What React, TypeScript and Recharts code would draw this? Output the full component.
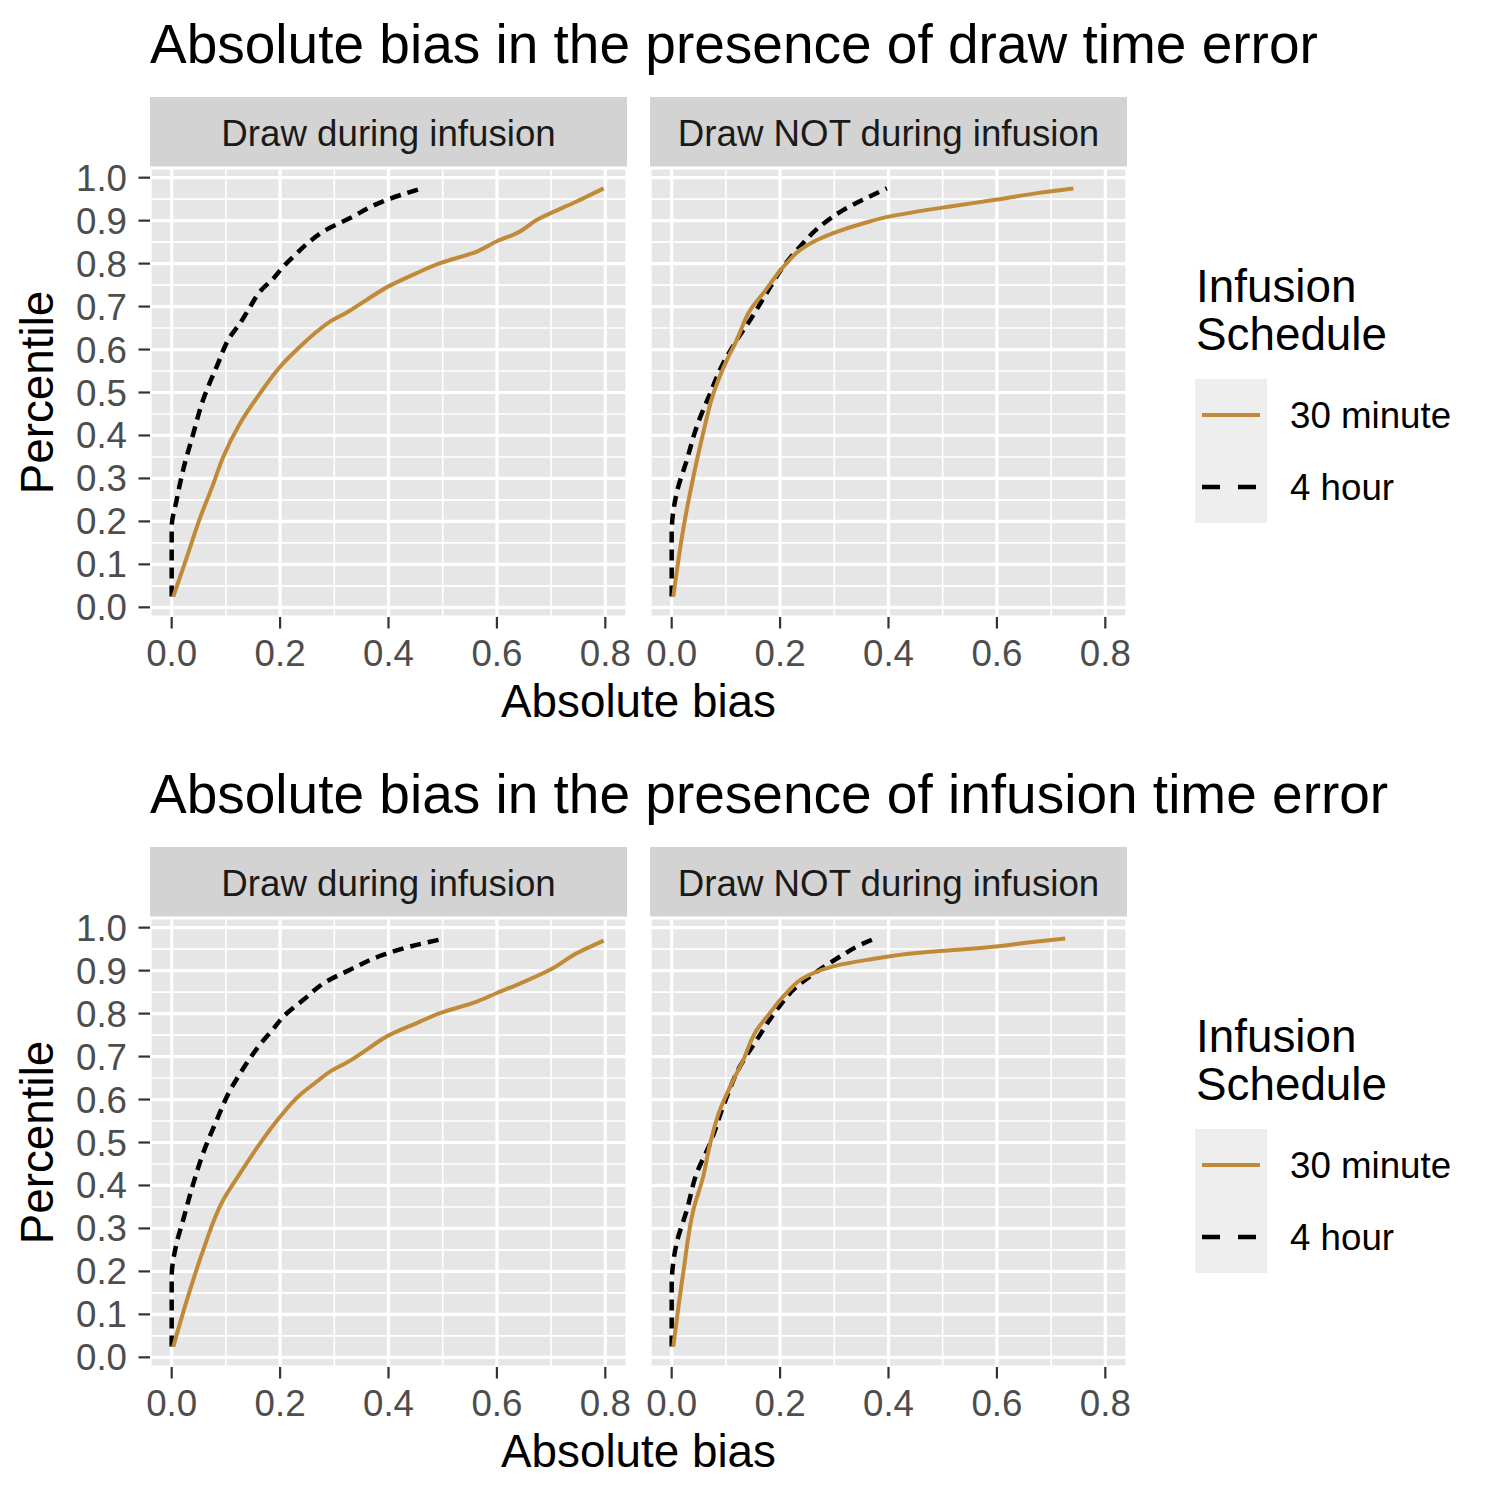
import { CartesianGrid, Line, LineChart, ReferenceLine, XAxis, YAxis } from "recharts";

type Pt = [number, number];

// absolute bias (x) vs percentile (y)
const drawDuring30: Pt[] = [[0.003,0.025],[0.028,0.117],[0.052,0.207],[0.077,0.288],[0.095,0.35],[0.126,0.428],[0.163,0.498],[0.2,0.56],[0.237,0.607],[0.268,0.642],[0.292,0.665],[0.323,0.686],[0.36,0.716],[0.4,0.747],[0.452,0.778],[0.495,0.801],[0.563,0.828],[0.6,0.852],[0.637,0.871],[0.674,0.902],[0.748,0.945],[0.797,0.975]];
const drawDuring4h: Pt[] = [[0,0.025],[0,0.187],[0.009,0.249],[0.021,0.319],[0.04,0.405],[0.058,0.483],[0.083,0.56],[0.108,0.63],[0.126,0.661],[0.145,0.7],[0.163,0.735],[0.188,0.766],[0.206,0.793],[0.231,0.824],[0.255,0.852],[0.28,0.875],[0.329,0.906],[0.39,0.945],[0.461,0.975]];
const drawNot30: Pt[] = [[0.003,0.025],[0.022,0.187],[0.04,0.304],[0.058,0.405],[0.077,0.498],[0.102,0.576],[0.12,0.622],[0.145,0.692],[0.169,0.731],[0.212,0.801],[0.237,0.832],[0.268,0.855],[0.298,0.871],[0.354,0.894],[0.403,0.91],[0.452,0.921],[0.514,0.933],[0.6,0.949],[0.674,0.964],[0.741,0.975]];
const drawNot4h: Pt[] = [[0,0.025],[0,0.172],[0.009,0.265],[0.028,0.343],[0.046,0.42],[0.071,0.498],[0.095,0.568],[0.12,0.622],[0.145,0.669],[0.175,0.731],[0.206,0.793],[0.237,0.84],[0.274,0.887],[0.317,0.925],[0.36,0.953],[0.397,0.975]];

const infDuring30: Pt[] = [[0.003,0.025],[0.028,0.133],[0.058,0.249],[0.095,0.366],[0.126,0.428],[0.163,0.498],[0.2,0.56],[0.237,0.611],[0.268,0.642],[0.292,0.665],[0.323,0.686],[0.36,0.716],[0.397,0.747],[0.452,0.778],[0.495,0.801],[0.563,0.828],[0.6,0.848],[0.637,0.867],[0.698,0.902],[0.748,0.941],[0.797,0.97]];
const infDuring4h: Pt[] = [[0,0.025],[0,0.187],[0.009,0.265],[0.021,0.319],[0.04,0.405],[0.058,0.475],[0.083,0.552],[0.108,0.622],[0.126,0.66],[0.145,0.697],[0.163,0.728],[0.188,0.765],[0.206,0.793],[0.243,0.832],[0.286,0.875],[0.329,0.902],[0.391,0.937],[0.452,0.96],[0.505,0.975]];
const infNot30: Pt[] = [[0.003,0.025],[0.022,0.203],[0.04,0.343],[0.058,0.42],[0.071,0.498],[0.089,0.576],[0.108,0.63],[0.132,0.692],[0.157,0.762],[0.181,0.801],[0.212,0.848],[0.249,0.887],[0.298,0.91],[0.36,0.925],[0.452,0.941],[0.575,0.953],[0.674,0.968],[0.726,0.975]];
const infNot4h: Pt[] = [[0,0.025],[0,0.164],[0.009,0.265],[0.028,0.343],[0.046,0.428],[0.071,0.498],[0.095,0.584],[0.126,0.677],[0.157,0.739],[0.194,0.809],[0.231,0.863],[0.268,0.898],[0.311,0.933],[0.348,0.96],[0.375,0.975]];

const xTicks = [0, 0.2, 0.4, 0.6, 0.8];
const xMinor = [0.1, 0.3, 0.5, 0.7];
const yTicks = [0, 0.1, 0.2, 0.3, 0.4, 0.5, 0.6, 0.7, 0.8, 0.9, 1.0];
const yMinor = [0.05, 0.15, 0.25, 0.35, 0.45, 0.55, 0.65, 0.75, 0.85, 0.95];
const facets = ["Draw during infusion", "Draw NOT during infusion"];
const seriesNames = ["30 minute", "4 hour"];

const GOLD = "#C08A38";
const FONT = "'Liberation Sans', Arial, Helvetica, sans-serif";
const PANEL_TOP = 168;
const PANEL_W = 477;
const PANEL_H = 449;
const X_AXIS_H = 70;
const PAD = 30;

const toRows = (pts: Pt[]) => pts.map(([x, y]) => ({ x, y }));

function Panel({ left, top, showY, gold, dash }: { left: number; top: number; showY: boolean; gold: Pt[]; dash: Pt[] }) {
  const yW = showY ? 150 : 0;
  const padL = showY ? 0 : PAD;
  return (
    <div style={{ position: "absolute", left: left - yW - padL, top: top - PAD }}>
      <LineChart
        width={PANEL_W + yW + padL + PAD}
        height={PANEL_H + X_AXIS_H + PAD}
        margin={{ top: PAD, right: PAD, bottom: 0, left: padL }}
      >
        <CartesianGrid fill="#E6E6E6" stroke="#FFFFFF" strokeWidth={3.2} />
        <XAxis
          dataKey="x"
          type="number"
          domain={[-0.04, 0.84]}
          allowDataOverflow
          ticks={xTicks}
          tickFormatter={(v: number) => v.toFixed(1)}
          tick={{ fontSize: 36.7, fill: "#4D4D4D", fontFamily: FONT }}
          tickSize={11.5}
          tickMargin={11}
          tickLine={{ stroke: "#333333", strokeWidth: 2.2 }}
          axisLine={false}
          height={X_AXIS_H}
          interval={0}
        />
        <YAxis
          dataKey="y"
          type="number"
          hide={!showY}
          domain={[-0.0225, 1.0225]}
          allowDataOverflow
          ticks={yTicks}
          tickFormatter={(v: number) => v.toFixed(1)}
          tick={{ fontSize: 36.7, fill: "#4D4D4D", fontFamily: FONT }}
          tickSize={11.5}
          tickMargin={11.5}
          tickLine={{ stroke: "#333333", strokeWidth: 2.2 }}
          axisLine={false}
          width={yW}
          interval={0}
        />
        {xMinor.map((v) => (
          <ReferenceLine key={"vx" + v} x={v} stroke="#FFFFFF" strokeWidth={1.6} />
        ))}
        {yMinor.map((v) => (
          <ReferenceLine key={"hy" + v} y={v} stroke="#FFFFFF" strokeWidth={1.6} />
        ))}
        <Line data={toRows(dash)} dataKey="y" type="monotoneY" stroke="#000000" strokeWidth={4.5} strokeDasharray="11 7" dot={false} isAnimationActive={false} />
        <Line data={toRows(gold)} dataKey="y" type="monotoneY" stroke={GOLD} strokeWidth={4} dot={false} isAnimationActive={false} />
      </LineChart>
    </div>
  );
}

function Figure({ top, title, panels }: { top: number; title: string; panels: [Pt[], Pt[]][] }) {
  const lefts = [150, 650];
  return (
    <div style={{ position: "absolute", left: 0, top, width: 1500, height: 750 }}>
      <svg width={1500} height={750} style={{ position: "absolute", left: 0, top: 0 }} fontFamily={FONT}>
        <text x={150} y={63} fontSize={55} fill="#000000">{title}</text>
        {facets.map((f, i) => (
          <g key={f}>
            <rect x={lefts[i]} y={97} width={PANEL_W} height={71} fill="#D3D3D3" />
            <text x={lefts[i] + PANEL_W / 2} y={145.5} fontSize={36.7} fill="#1A1A1A" textAnchor="middle">{f}</text>
          </g>
        ))}
        <text x={638.5} y={717} fontSize={45.8} fill="#000000" textAnchor="middle">Absolute bias</text>
        <text transform="translate(53,392.5) rotate(-90)" fontSize={45.8} fill="#000000" textAnchor="middle">Percentile</text>
        <text x={1196} y={302} fontSize={45.8} fill="#000000">Infusion</text>
        <text x={1196} y={350} fontSize={45.8} fill="#000000">Schedule</text>
        <rect x={1195} y={379} width={72} height={144} fill="#EEEEEE" />
        <line x1={1202} x2={1260} y1={415} y2={415} stroke={GOLD} strokeWidth={4} />
        <line x1={1202} x2={1260} y1={487} y2={487} stroke="#000000" strokeWidth={4.5} strokeDasharray="18 18" />
        <text x={1290} y={428} fontSize={36.7} fill="#000000">{seriesNames[0]}</text>
        <text x={1290} y={500} fontSize={36.7} fill="#000000">{seriesNames[1]}</text>
      </svg>
      {panels.map(([gold, dash], i) => (
        <Panel key={i} left={lefts[i]} top={PANEL_TOP} showY={i === 0} gold={gold} dash={dash} />
      ))}
    </div>
  );
}

export default function App() {
  return (
    <div style={{ position: "absolute", left: 0, top: 0, width: 1500, height: 1500, background: "#FFFFFF" }}>
      <Figure
        top={0}
        title="Absolute bias in the presence of draw time error"
        panels={[[drawDuring30, drawDuring4h], [drawNot30, drawNot4h]]}
      />
      <Figure
        top={750}
        title="Absolute bias in the presence of infusion time error"
        panels={[[infDuring30, infDuring4h], [infNot30, infNot4h]]}
      />
    </div>
  );
}
